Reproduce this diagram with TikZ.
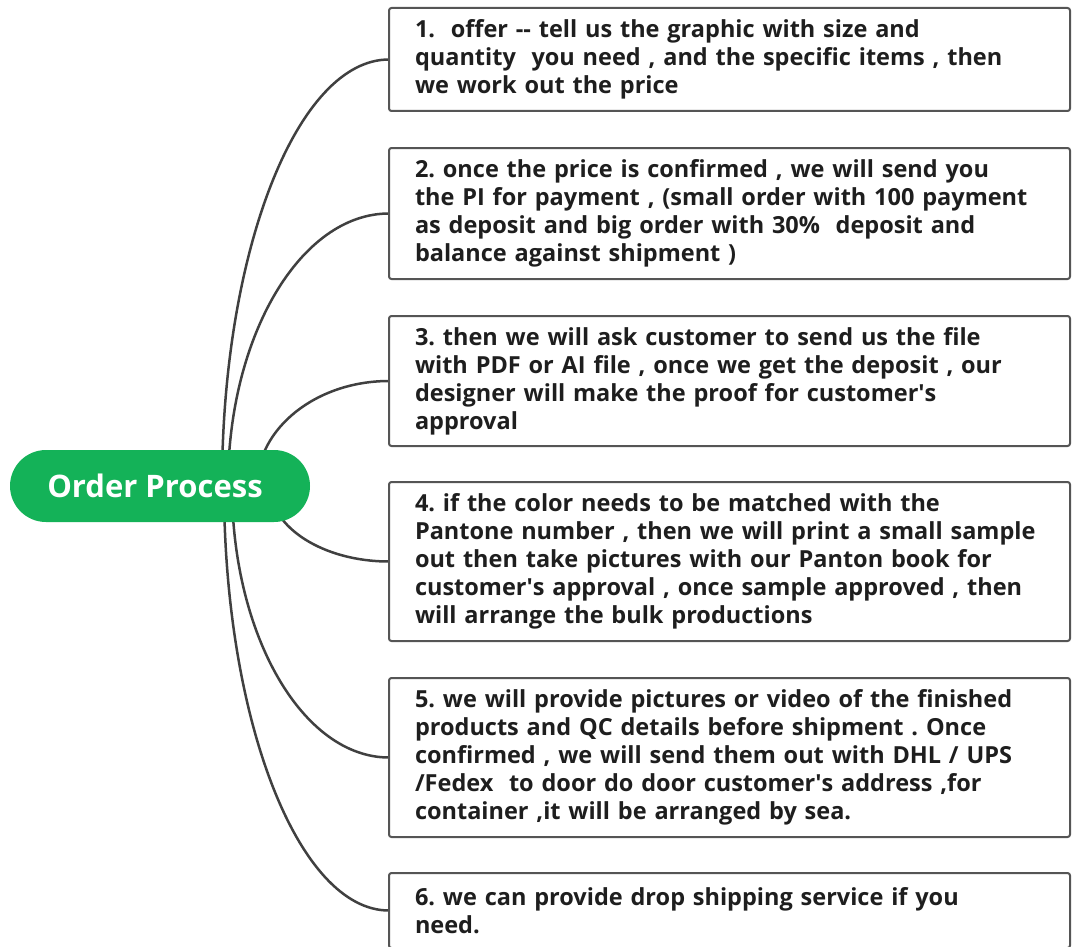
\documentclass[tikz,border=0pt]{standalone}
\usepackage{fontspec}
\setmainfont{Open Sans}
\usetikzlibrary{positioning}
\usetikzlibrary{calc}
\usetikzlibrary{backgrounds}
\definecolor{pillgreen}{RGB}{20,178,88}
\definecolor{edgegray}{RGB}{85,85,85}
\definecolor{inkgray}{RGB}{30,30,30}
\newcommand\q{\textquotesingle}
\tikzset{
  hub/.style={fill=pillgreen, rounded corners=36pt, minimum width=300pt,
    minimum height=72pt, inner sep=0pt, text=white,
    font=\fontsize{31}{34}\selectfont\bfseries},
  stepnote/.style={draw=edgegray, line width=2pt, rounded corners=2.5pt,
    fill=white, text width=629pt, inner xsep=26pt, inner ysep=0pt,
    outer sep=0pt, align=left, text=inkgray,
    font=\fontsize{23.5}{28}\selectfont\bfseries\frenchspacing},
  branch/.style={draw=black!75, line width=2.5pt}
}

\begin{document}
\begin{tikzpicture}[x=1pt,y=-1pt]
  \useasboundingbox (0,0) rectangle (1073,947);

  % centre
  \node[hub] (op) at (160,486) {Order Process\hspace*{10pt}};

  % steps
  \node[stepnote, minimum height=103pt, anchor=north west] (b1) at (389,8)
    {1.\ \ offer -{}- tell us the graphic with size and\\
     quantity\ \ you need , and the specific items , then\\
     we work out the price};
  \node[stepnote, minimum height=131pt, below=37pt of b1] (b2)
    {2. once the price is confirmed , we will send you\\
     the PI for payment , (small order with 100 payment\\
     as deposit and big order with 30\%\ \ deposit and\\
     balance against shipment )};
  \node[stepnote, minimum height=130pt, below=37pt of b2] (b3)
    {3. then we will ask customer to send us the file\\
     with PDF or AI file , once we get the deposit , our\\
     designer will make the proof for customer\q s\\
     approval};
  \node[stepnote, minimum height=159pt, below=36pt of b3] (b4)
    {4. if the color needs to be matched with the\\
     Pantone number , then we will print a small sample\\
     out then take pictures with our Panton book for\\
     customer\q s approval , once sample approved , then\\
     will arrange the bulk productions};
  \node[stepnote, minimum height=159pt, below=37pt of b4] (b5)
    {5. we will provide pictures or video of the finished\\
     products and QC details before shipment . Once\\
     confirmed , we will send them out with DHL / UPS\\
     /Fedex\ \ to door do door customer\q s address ,for\\
     container ,it will be arranged by sea.};
  \node[stepnote, minimum height=75pt, below=36pt of b5] (b6)
    {6. we can provide drop shipping service if you\\
     need.};

  % branches
  \begin{scope}[on background layer]
    \foreach \i/\dx in {1/62,2/68,3/97,4/110,5/72,6/64} {
      \coordinate (s\i) at ([xshift=\dx pt]op.center);
      \draw[branch] (s\i)
        .. controls ($(s\i)!0.55!(s\i |- b\i.west)$)
        and ($(b\i.west)!0.55!(s\i |- b\i.west)$) .. (b\i.west);
    }
  \end{scope}

\end{tikzpicture}
\end{document}
